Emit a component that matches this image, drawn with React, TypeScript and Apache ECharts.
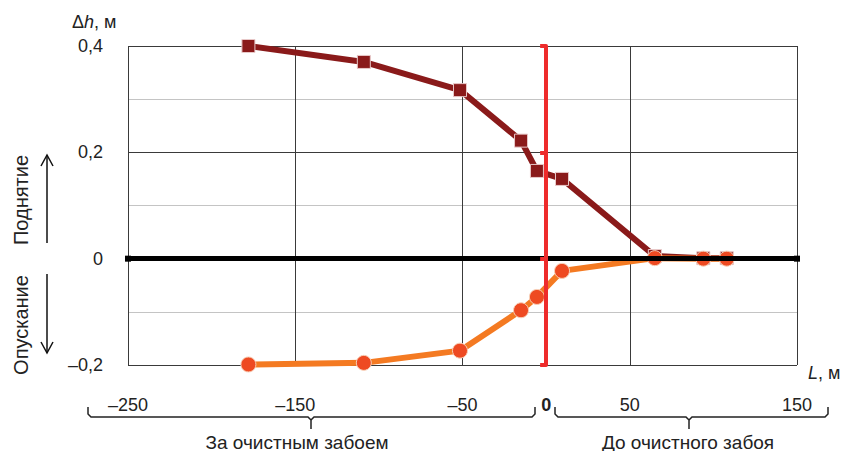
import React, { useEffect, useRef } from "react";
import * as echarts from "echarts";

const distances = [-178, -109, -51.5, -15, -5.5, 9.5, 65, 94, 108];
const upliftValues = [0.4, 0.37, 0.317, 0.222, 0.165, 0.15, 0.005, 0.001, 0.001];
const subsidenceValues = [-0.199, -0.196, -0.173, -0.097, -0.072, -0.023, 0.001, 0.0, 0.0];
const xTickValues = [-250, -150, -50, 50, 150];
const yTickValues = [-0.2, 0, 0.2, 0.4];

const FONT = "'Liberation Sans', Arial, sans-serif";
const TXT = "#222";

function fmtY(v: number) {
  if (Math.abs(v) < 1e-9) return "0";
  return v.toFixed(1).replace(".", ",").replace("-", "\u2013");
}

export default function App() {
  const ref = useRef<HTMLDivElement>(null);
  useEffect(() => {
    if (!ref.current) return;
    const chart = echarts.init(ref.current, undefined, { renderer: "svg" });
    const upData = distances.map((d, i) => [d, upliftValues[i]]);
    const downData = distances.map((d, i) => [d, subsidenceValues[i]]);
    const braceStyle = { stroke: "#222", lineWidth: 1.5, fill: "none" };
    chart.setOption({
      animation: false,
      grid: { left: 128, right: 45, top: 46, bottom: 86 },
      xAxis: [
        {
          type: "value",
          min: xTickValues[0],
          max: xTickValues[xTickValues.length - 1],
          interval: 100,
          axisLine: { show: false, onZero: false },
          axisTick: { show: false },
          splitLine: { show: true, lineStyle: { color: "#3a3a3a", width: 1 } },
          axisLabel: {
            margin: 31,
            fontSize: 18,
            color: TXT,
            fontFamily: FONT,
            formatter: (v: number) => String(v).replace("-", "\u2013"),
          },
        },
        {
          type: "value",
          min: xTickValues[0],
          max: xTickValues[xTickValues.length - 1],
          interval: 50,
          position: "bottom",
          axisLine: { show: false, onZero: false },
          axisTick: { show: false },
          splitLine: { show: false },
          axisLabel: {
            margin: 31,
            fontSize: 18,
            color: TXT,
            fontFamily: FONT,
            fontWeight: "bold",
            formatter: (v: number) => (v === 0 ? "0" : ""),
          },
        },
      ],
      yAxis: [
        {
          type: "value",
          min: yTickValues[0],
          max: yTickValues[yTickValues.length - 1],
          interval: 0.2,
          axisLine: { show: false, onZero: false },
          axisTick: { show: false },
          minorTick: { show: false, splitNumber: 2 },
          splitLine: { show: true, lineStyle: { color: "#3a3a3a", width: 1 } },
          minorSplitLine: { show: true, lineStyle: { color: "#c4c4c4", width: 1 } },
          axisLabel: {
            margin: 25,
            fontSize: 18,
            color: TXT,
            fontFamily: FONT,
            formatter: fmtY,
          },
        },
        {
          type: "value",
          min: yTickValues[0],
          max: yTickValues[yTickValues.length - 1],
          interval: 0.2,
          position: "left",
          z: 10,
          axisLine: {
            show: true,
            onZero: true,
            onZeroAxisIndex: 0,
            lineStyle: { color: "#ee2b2b", width: 4 },
          },
          axisTick: { show: true, length: 6, lineStyle: { color: "#ee2b2b", width: 4 } },
          axisLabel: { show: false },
          splitLine: { show: false },
        },
      ],
      series: [
        {
          type: "line",
          data: upData,
          xAxisIndex: 0,
          yAxisIndex: 0,
          symbol: "rect",
          symbolSize: 13,
          lineStyle: { color: "#8a1a1a", width: 6 },
          itemStyle: { color: "#8a1a1a", borderColor: "#e8c8c8", borderWidth: 1 },
          markLine: {
            silent: true,
            symbol: ["rect", "rect"],
            symbolSize: 6,
            label: { show: false },
            lineStyle: { color: "#000", width: 5, type: "solid" },
            data: [{ yAxis: 0 }],
          },
          z: 3,
        },
        {
          type: "line",
          data: downData,
          xAxisIndex: 0,
          yAxisIndex: 0,
          symbol: "circle",
          symbolSize: 15,
          lineStyle: { color: "#f47a22", width: 6 },
          itemStyle: { color: "#ee4a22", borderColor: "#f8d0b8", borderWidth: 1 },
          z: 4,
        },
      ],
      graphic: [
        {
          type: "text",
          x: 72,
          y: 22,
          style: {
            text: "\u0394{i|h}, м",
            fontSize: 18,
            fontFamily: FONT,
            fill: TXT,
            verticalAlign: "middle",
            rich: { i: { fontStyle: "italic", fontSize: 18, fontFamily: FONT, fill: TXT } },
          },
        },
        {
          type: "text",
          x: 808,
          y: 373,
          style: {
            text: "{i|L}, м",
            fontSize: 18,
            fontFamily: FONT,
            fill: TXT,
            verticalAlign: "middle",
            rich: { i: { fontStyle: "italic", fontSize: 18, fontFamily: FONT, fill: TXT } },
          },
        },
        {
          type: "text",
          x: 21,
          y: 200,
          rotation: Math.PI / 2,
          style: {
            text: "Поднятие",
            fontSize: 20,
            fontFamily: FONT,
            fill: TXT,
            align: "center",
            verticalAlign: "middle",
          },
        },
        {
          type: "text",
          x: 21,
          y: 325,
          rotation: Math.PI / 2,
          style: {
            text: "Опускание",
            fontSize: 20,
            fontFamily: FONT,
            fill: TXT,
            align: "center",
            verticalAlign: "middle",
          },
        },
        { type: "line", shape: { x1: 47, y1: 243, x2: 47, y2: 155 }, style: { stroke: "#111", lineWidth: 1.5 } },
        { type: "polyline", shape: { points: [[41, 166], [47, 155], [53, 166]] }, style: { stroke: "#111", lineWidth: 1.5, fill: "none" } },
        { type: "line", shape: { x1: 47, y1: 274, x2: 47, y2: 353 }, style: { stroke: "#111", lineWidth: 1.5 } },
        { type: "polyline", shape: { points: [[41, 342], [47, 353], [53, 342]] }, style: { stroke: "#111", lineWidth: 1.5, fill: "none" } },
        {
          type: "polyline",
          shape: { points: [[88, 407], [88, 414], [91, 417], [308, 417], [311, 420], [311, 429]] },
          style: braceStyle,
        },
        {
          type: "polyline",
          shape: { points: [[311, 420], [314, 417], [532, 417], [535, 414], [535, 407]] },
          style: braceStyle,
        },
        {
          type: "polyline",
          shape: { points: [[555, 407], [555, 414], [558, 417], [686, 417], [689, 420], [689, 429]] },
          style: braceStyle,
        },
        {
          type: "polyline",
          shape: { points: [[689, 420], [692, 417], [825, 417], [828, 414], [828, 407]] },
          style: braceStyle,
        },
        {
          type: "text",
          x: 297,
          y: 442,
          style: { text: "За очистным забоем", fontSize: 19, fontFamily: FONT, fill: TXT, align: "center", verticalAlign: "middle" },
        },
        {
          type: "text",
          x: 688,
          y: 442,
          style: { text: "До очистного забоя", fontSize: 19, fontFamily: FONT, fill: TXT, align: "center", verticalAlign: "middle" },
        },
      ],
    });
    return () => chart.dispose();
  }, []);
  return (
    <div
      ref={ref}
      style={{ position: "absolute", left: 0, top: 0, width: 842, height: 451, background: "#fff" }}
    />
  );
}
